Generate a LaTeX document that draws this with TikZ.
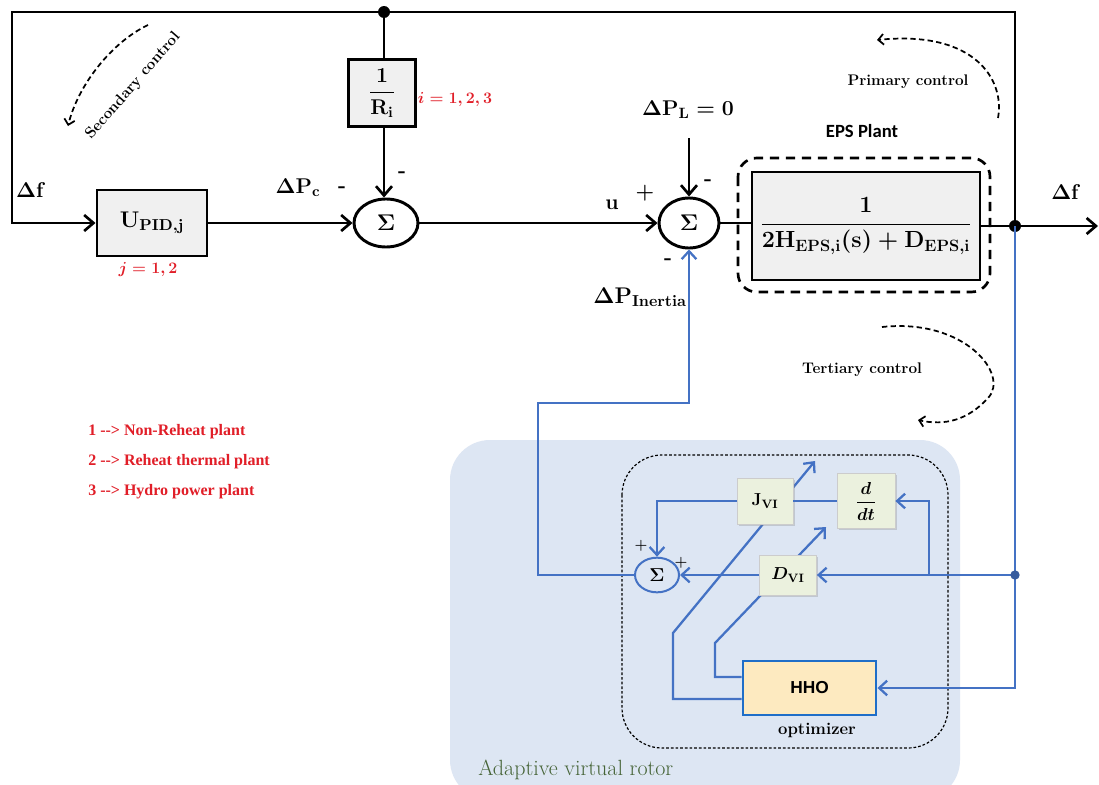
\RequirePackage{fix-cm}
\documentclass[tikz,border=0pt]{standalone}
\usepackage{fontspec}
\usepackage{amsmath,amssymb}
\usetikzlibrary{arrows.meta,shapes.geometric,calc,shadows}
\newfontfamily\calib{Carlito}
\newfontfamily\timesf{Liberation Serif}
\newfontfamily\arialf{Liberation Sans}
\definecolor{bl}{RGB}{68,114,196}
\definecolor{bltwo}{RGB}{31,110,200}
\definecolor{bgblue}{RGB}{221,230,243}
\definecolor{boxgreen}{RGB}{235,241,222}
\definecolor{hhofill}{RGB}{253,234,192}
\definecolor{redl}{RGB}{225,30,40}
\definecolor{grn}{RGB}{70,100,55}
\pgfdeclarelayer{bg}
\pgfdeclarelayer{mid}
\pgfsetlayers{bg,mid,main}
\tikzset{
 blk/.style={line width=2.2pt,draw=black},
 barr/.style={blk,-{Straight Barb[length=7pt,width=12pt,line width=2pt]}},
 bline/.style={line width=1.7pt,draw=bl},
 barrb/.style={bline,-{Straight Barb[length=6pt,width=11pt,line width=1.7pt]}},
 gbox/.style={draw,line width=2.2pt,fill=gray!12,inner sep=0pt},
 sumnode/.style={ellipse,draw,line width=2.2pt,inner sep=0pt,font=\fontsize{17}{20}\selectfont\boldmath},
 mlab/.style={font=\fontsize{16}{19}\selectfont\boldmath,inner sep=0pt},
 sgn/.style={font=\fontsize{16}{19}\selectfont\bfseries,inner sep=0pt},
 ssgn/.style={font=\fontsize{11}{13}\selectfont\bfseries,inner sep=0pt},
 redlab/.style={font=\fontsize{12}{14}\selectfont\boldmath,text=redl,inner sep=0pt},
 gn/.style={draw=black!20,line width=0.6pt,fill=boxgreen,inner sep=0pt,font=\fontsize{13}{15}\selectfont\boldmath,
   drop shadow={shadow xshift=1.2pt,shadow yshift=-1.2pt,opacity=0.3}},
 ctl/.style={font=\fontsize{11.5}{13}\selectfont\bfseries,inner sep=0pt},
 ctlarr/.style={line width=1.3pt,dash pattern=on 4pt off 2.5pt,-{Straight Barb[length=4pt,width=8pt,line width=1.3pt]}},
 leg/.style={font=\timesf\bfseries\fontsize{12}{14}\selectfont,text=redl,inner sep=0pt,anchor=west},
}
\begin{document}
\begin{tikzpicture}[x=0.75pt,y=-0.75pt]
\useasboundingbox (0,0) rectangle (1099,785);
\begin{pgfonlayer}{bg}
\fill[white] (0,0) rectangle (1099,785);
\fill[bgblue,rounded corners=30pt] (450,440) rectangle (960,800);
\draw[black,line width=0.9pt,dash pattern=on 2pt off 1.5pt,rounded corners=30pt] (622,455) rectangle (948,748);
\draw[black,line width=2pt,dash pattern=on 7pt off 5pt,rounded corners=14pt] (738,158) rectangle (990,292);
\end{pgfonlayer}

% main blocks
\node[gbox,minimum width=82.5pt,minimum height=49.5pt,font=\fontsize{17}{20}\selectfont\boldmath] (U) at (152,223) {$\mathbf{U}_{\mathbf{PID,j}}$};
\node[gbox,minimum width=50pt,minimum height=50pt,font=\fontsize{16}{19}\selectfont\boldmath] (R) at (382,93) {$\dfrac{\mathbf 1}{\mathbf R_{\mathbf i}}$};
\node[sumnode,minimum width=48pt,minimum height=36pt] (S1) at (386,223) {$\Sigma$};
\node[sumnode,minimum width=45pt,minimum height=37.5pt] (S2) at (689,223) {$\Sigma$};
\node[gbox,minimum width=171pt,minimum height=81pt,font=\fontsize{17.5}{21}\selectfont\boldmath] (P) at (866,226) {$\dfrac{\mathbf 1}{\mathbf{2H_{EPS,i}(s)+D_{EPS,i}}}$};

% adaptive virtual rotor blocks
\node[gn,minimum width=42pt,minimum height=34.5pt] (J) at (765,501) {$\mathbf{J}_{\mathbf{VI}}$};
\node[gn,minimum width=43.5pt,minimum height=41pt] (DD) at (866,501) {$\dfrac{d}{dt}$};
\node[gn,minimum width=42.75pt,minimum height=30pt] (DV) at (788,575) {$D_{\mathbf{VI}}$};
\node[ellipse,draw=bl,line width=1.5pt,minimum width=33pt,minimum height=26pt,inner sep=0pt,font=\fontsize{14}{16}\selectfont\boldmath] (S3) at (657,575) {$\Sigma$};
\node[draw=bltwo,line width=2.2pt,fill=hhofill,minimum width=99.75pt,minimum height=40.5pt,font=\arialf\bfseries\fontsize{13}{15}\selectfont] (H) at (809.5,688) {HHO};

\coordinate (topdot) at (384,12);
\coordinate (jn) at (1015,226);
\coordinate (out) at (1098,226);
\coordinate (bdot) at (1015,575);
\coordinate (br) at (929,575);

% black connectors
\draw[barr] (jn) |- (12,12) |- (U.west);
\draw[barr] (U.east) -- (S1.west);
\draw[blk] (topdot) -- (topdot |- R.north);
\draw[barr] (topdot |- R.south) -- (topdot |- S1.north);
\draw[barr] (S1.east) -- (S2.west);
\coordinate (plin) at (689,138);
\draw[barr] (plin) -- (S2.north);
\draw[blk] (S2.east) -- (S2.east -| P.west);
\draw[blk] (P.east |- jn) -- (jn);
\draw[barr] (jn) -- (out);
\fill (topdot) circle (4.5pt);
\fill (jn) circle (4.5pt);

% blue connectors
\draw[barrb] (S3.west) -| (538,403) -| (S2.south);
\draw[barrb] (jn) |- (H.east);
\draw[barrb] (bdot) -- (DV.east);
\draw[barrb] (br) |- (DD.east);
\draw[bline] (DD.west) -- (J.east);
\draw[barrb] (J.west) -| (S3.north);
\draw[barrb] (DV.west) -- (S3.east);
\fill[bl!80!black] (bdot) circle (3.5pt);
\begin{pgfonlayer}{mid}
\draw[barrb] ([yshift=-8.25pt]H.west) -| (673,633) -- (815,461);
\draw[barrb] ([yshift=8.25pt]H.west) -| (715,643) -- (826,527);
\end{pgfonlayer}

% control arcs
\draw[ctlarr] (148,25) .. controls (112,42) and (78,85) .. (68,126);
\draw[ctlarr] (998,118) .. controls (1005,80) and (975,30) .. (877,40);
\draw[ctlarr] (882,327) .. controls (965,318) and (1010,375) .. (988,398) .. controls (968,420) and (945,426) .. (918,420);

% labels
\node[mlab] (lf1) at (31,190) {$\Delta\mathbf f$};
\node[redlab] (lj) at (148,270) {$j=1,2$};
\node[mlab] (lpc) at (298,188) {$\Delta\mathbf P_{\mathbf c}$};
\node[sgn] (m1) at (342,190) {-};
\node[sgn] (m2) at (402,175) {-};
\node[redlab] (li) at (455,100) {$i=1,2,3$};
\node[mlab] (lu) at (612,205) {$\mathbf u$};
\node[sgn] (p1) at (645,193) {+};
\node[sgn] (m3) at (708,183) {-};
\node[sgn] (m4) at (668,262) {-};
\node[mlab] (lpl) at (688,110) {$\Delta\mathbf P_{\mathbf L}=\mathbf 0$};
\node[font=\fontsize{17}{20}\selectfont\boldmath,inner sep=0pt] (lpi) at (640,297) {$\Delta\mathbf P_{\mathbf{Inertia}}$};
\node[font=\calib\bfseries\fontsize{14}{16}\selectfont,inner sep=0pt] (leps) at (862,131) {EPS Plant};
\node[ctl] (lprim) at (908,82) {Primary control};
\node[mlab] (lf2) at (1066,192) {$\Delta\mathbf f$};
\node[ctl] (lter) at (862,370) {Tertiary control};
\node[ctl,rotate=49] (lsec) at (133,86) {Secondary control};
\node[leg] (l1) at (88,432) {1 -\kern0pt-\kern0pt> Non-Reheat plant};
\node[leg] (l2) at (88,462) {2 -\kern0pt-\kern0pt> Reheat thermal plant};
\node[leg] (l3) at (88,492) {3 -\kern0pt-\kern0pt> Hydro power plant};
\node[ssgn] (p2) at (641,546) {+};
\node[ssgn] (p3) at (681,563) {+};
\node[font=\bfseries\fontsize{12.5}{14}\selectfont,inner sep=0pt] (lopt) at (817,730) {optimizer};
\node[anchor=west,text=grn,font=\fontsize{16.5}{19}\selectfont,inner sep=0pt] (lavr) at (478,770) {Adaptive virtual rotor};
\end{tikzpicture}
\end{document}
